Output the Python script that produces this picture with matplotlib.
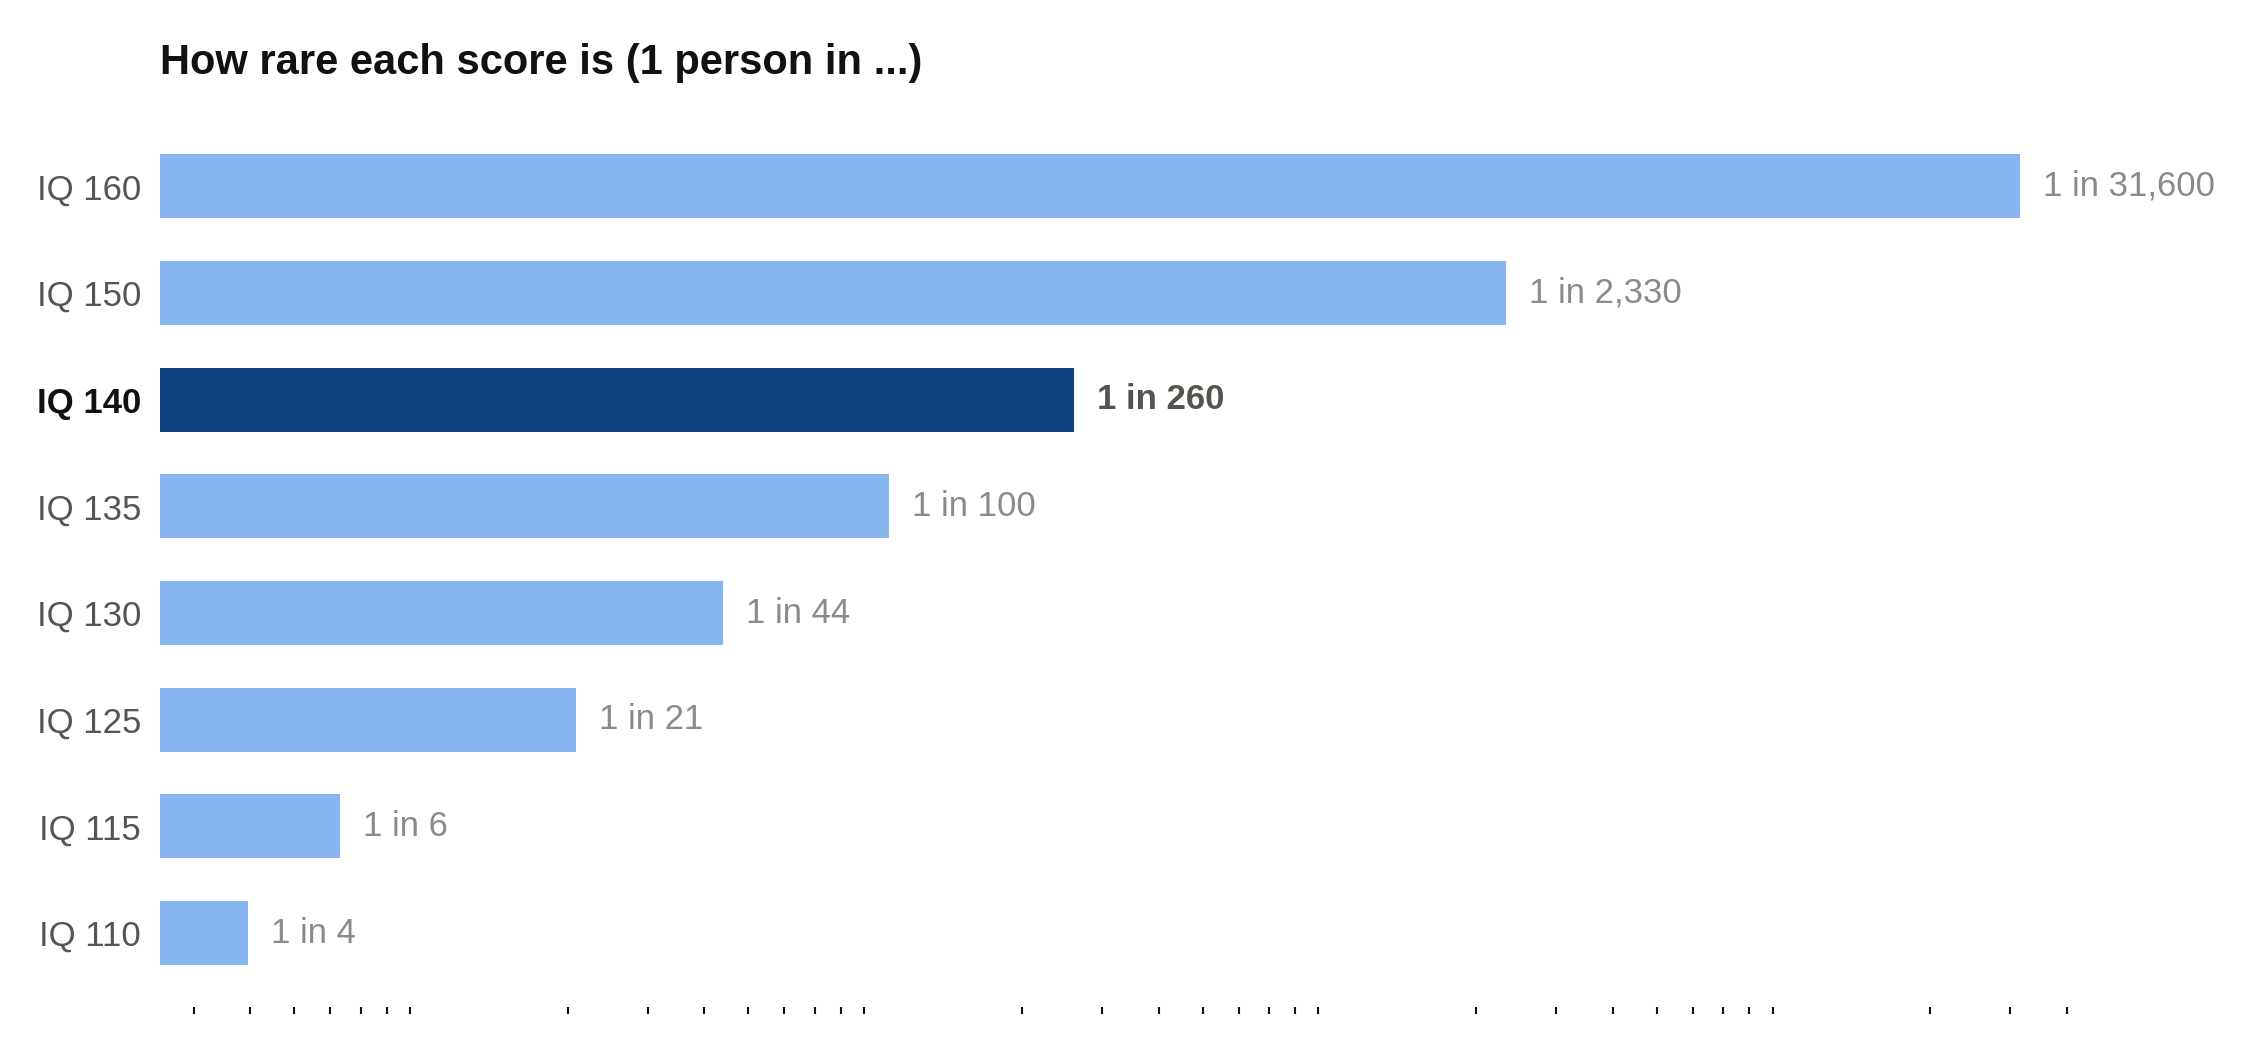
import matplotlib
matplotlib.use('Agg')
import matplotlib.pyplot as plt
from matplotlib.ticker import LogLocator, NullFormatter

plt.rcParams['font.family'] = ['Liberation Sans', 'DejaVu Sans']

# Data (nederst til øvst)
scores = ['IQ 110', 'IQ 115', 'IQ 125', 'IQ 130', 'IQ 135', 'IQ 140', 'IQ 150', 'IQ 160']
one_in = [3.96, 6.3, 20.9, 44, 102, 261, 2330, 31600]
labels = ['1 in 4', '1 in 6', '1 in 21', '1 in 44', '1 in 100', '1 in 260', '1 in 2,330', '1 in 31,600']
highlight = 'IQ 140'

light = '#86b5ef'
dark = '#114282'

fig = plt.figure(figsize=(22.56, 10.4), dpi=100)
ax = fig.add_axes([160 / 2256, 1 - 1007 / 1040, 1930 / 2256, 894.6 / 1040])

y = list(range(len(scores)))
colors = [dark if s == highlight else light for s in scores]
# stolpane startar ved 1 (log-akse) og sluttar ved verdien
ax.barh(y, [v - 1 for v in one_in], left=1, height=0.6, color=colors)

ax.set_xscale('log')
ax.set_xlim(2.53, 45000)
ax.set_ylim(-0.693, len(scores) - 1 + 0.693)

# Verdietikettar ved enden av kvar stolpe
for yi, v, lab, s in zip(y, one_in, labels, scores):
    bold = s == highlight
    ax.annotate(lab, (v, yi), xytext=(16.5, 0), textcoords='offset points',
                va='center', ha='left', fontsize=25,
                color='#55554f' if bold else '#8a8a88',
                fontweight='bold' if bold else 'normal')

ax.set_yticks(y)
ax.set_yticklabels(scores, fontsize=25)
for tl, s in zip(ax.get_yticklabels(), scores):
    if s == highlight:
        tl.set_fontweight('bold')
        tl.set_color('#111111')
    else:
        tl.set_color('#555555')
ax.tick_params(axis='y', length=0, pad=13.7)

# Berre små merke på x-aksen
ax.xaxis.set_major_formatter(NullFormatter())
ax.xaxis.set_minor_formatter(NullFormatter())
ax.xaxis.set_minor_locator(LogLocator(base=10, subs=range(2, 10), numticks=20))
ax.tick_params(axis='x', which='major', length=0)
ax.tick_params(axis='x', which='minor', length=5, width=1.5, color='#111111', direction='out')

for sp in ax.spines.values():
    sp.set_visible(False)

fig.text(160 / 2256, 1 - 74 / 1040, 'How rare each score is (1 person in ...)',
         fontsize=30, fontweight='bold', color='#111111', ha='left', va='baseline')

fig.savefig('out.png', dpi=100, facecolor='white')
